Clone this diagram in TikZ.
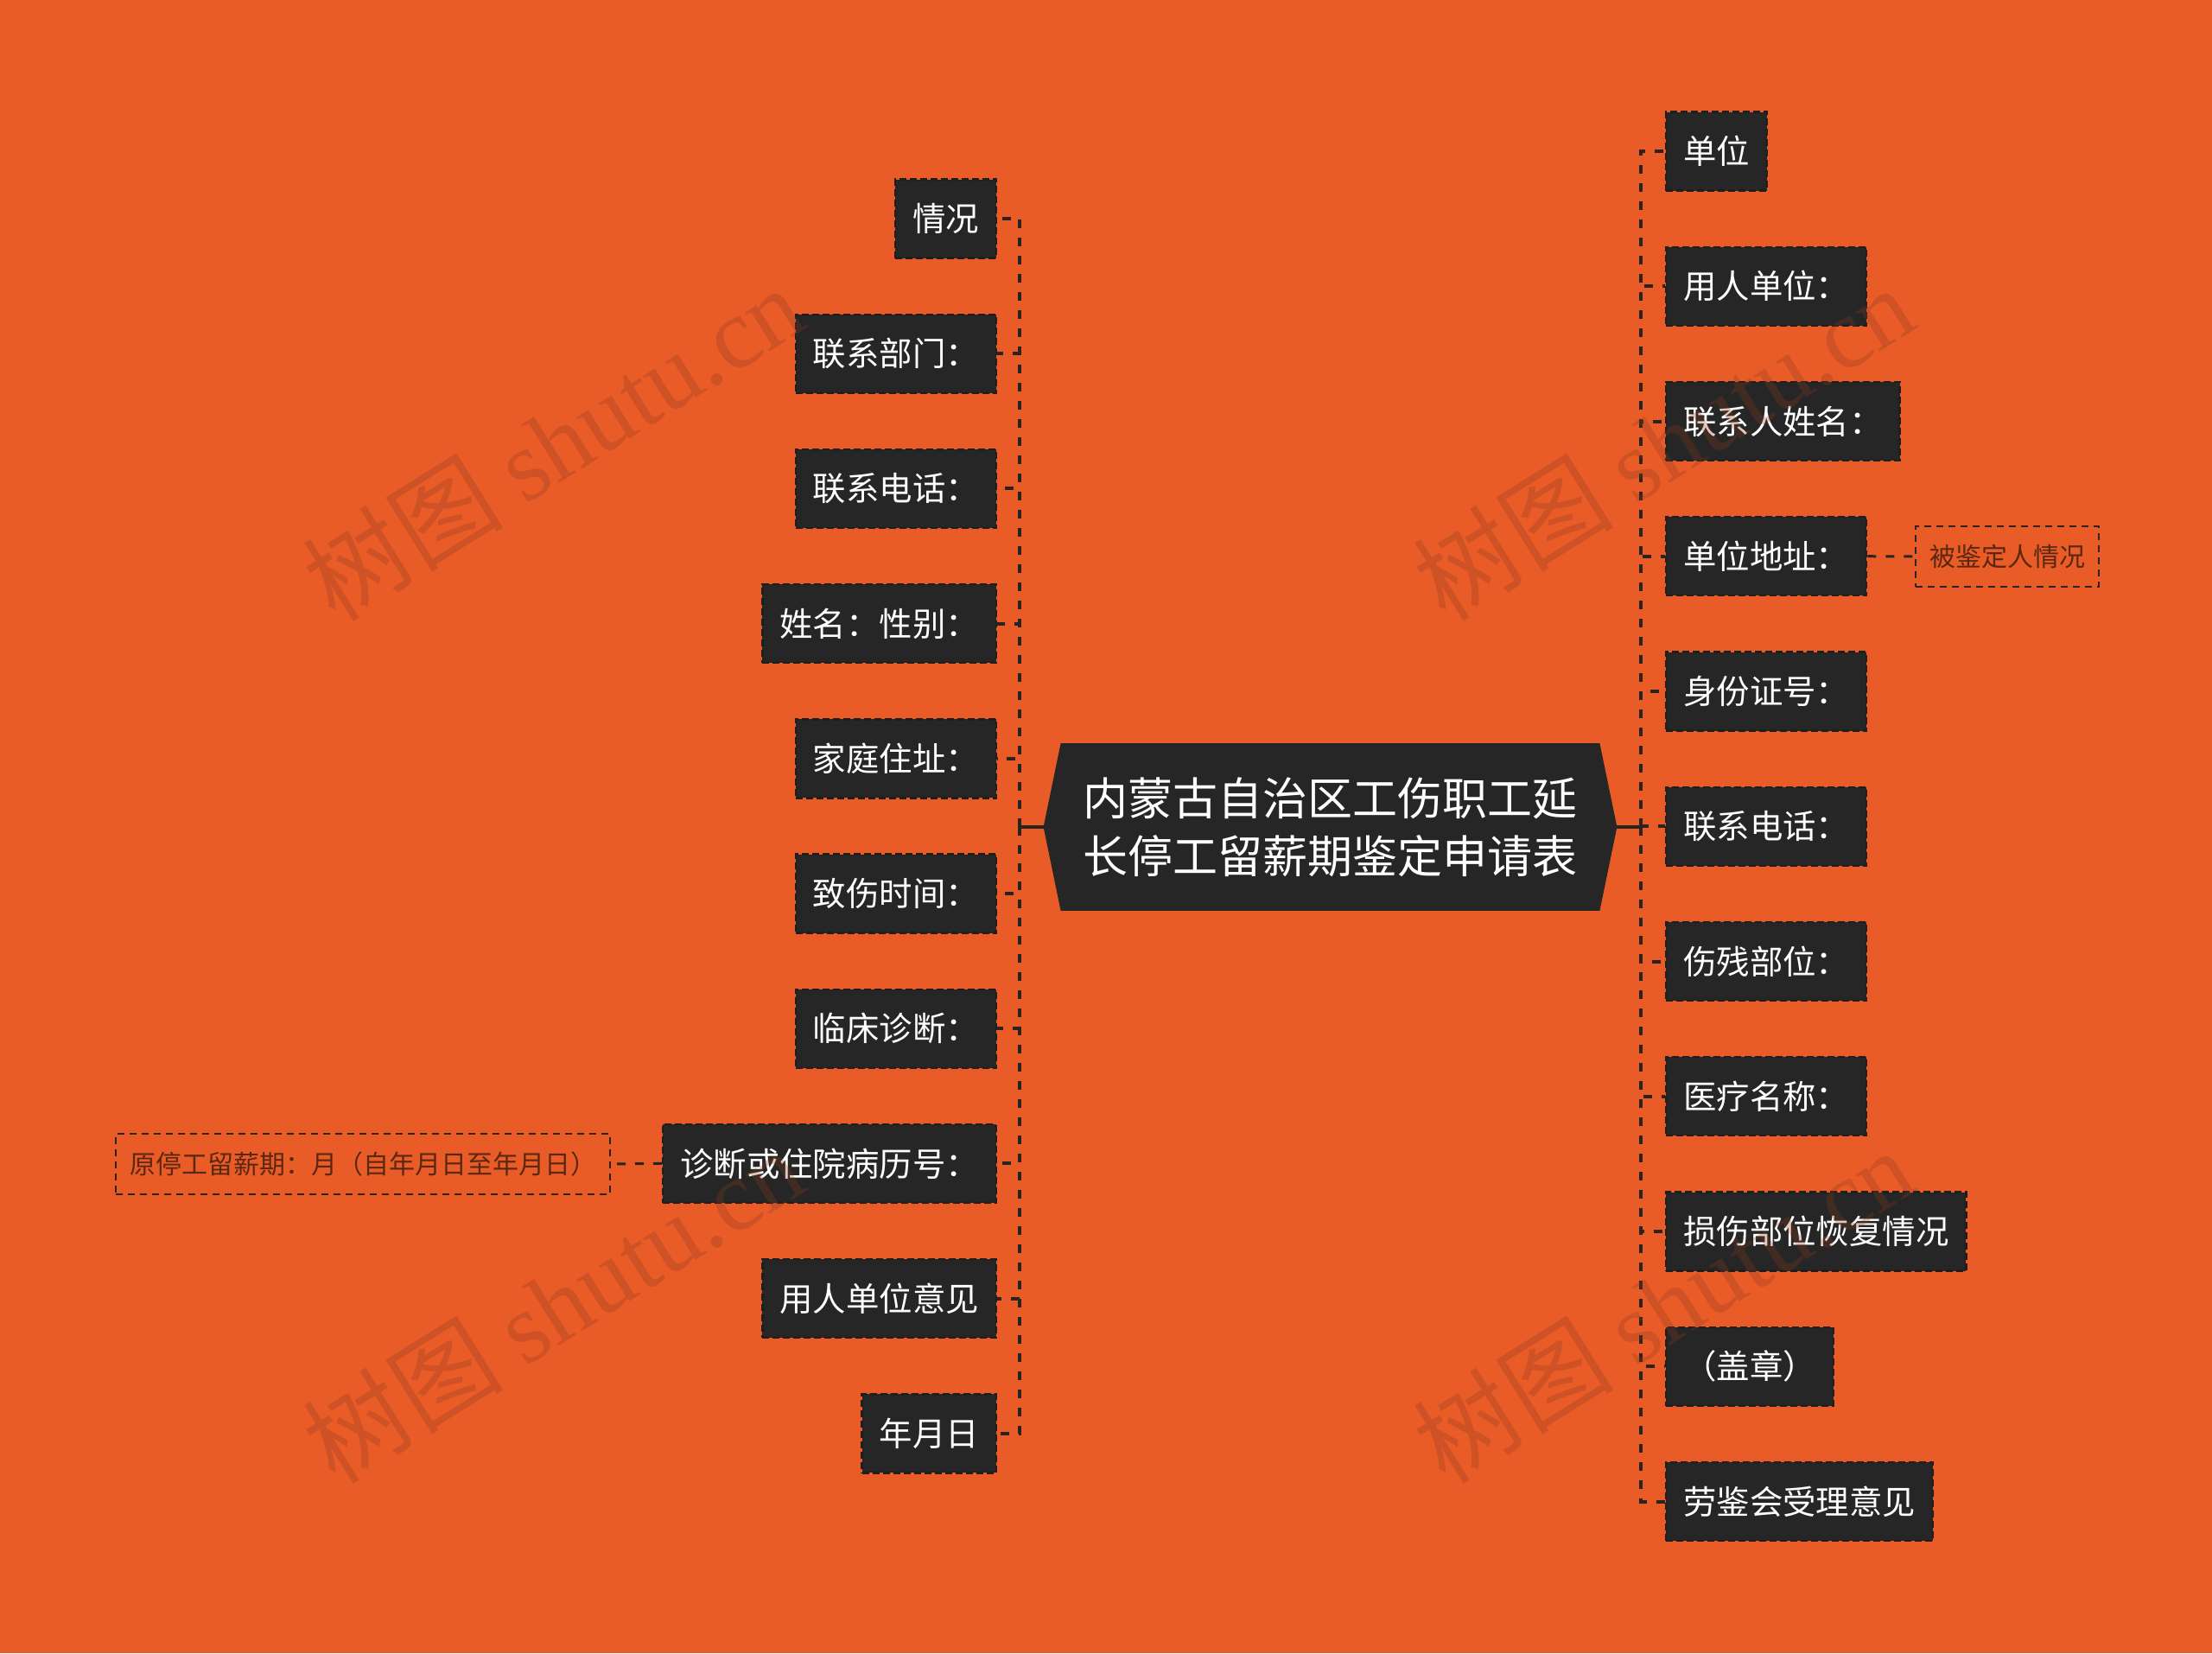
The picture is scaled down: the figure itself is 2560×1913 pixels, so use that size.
\documentclass[tikz,border=0pt]{standalone}
\usepackage{fontspec}
\usetikzlibrary{calc}
\newfontfamily\cjk{Noto Sans CJK SC}
\newfontfamily\wmserif{Liberation Serif}
\definecolor{bgc}{HTML}{E95C28}
\definecolor{boxc}{HTML}{262626}
\definecolor{edgec}{HTML}{1E1E1E}
\definecolor{connc}{HTML}{2A2420}
\definecolor{leafc}{HTML}{5A2810}
\definecolor{wmc}{HTML}{8B3A1E}
\tikzset{
  box/.style={fill=boxc, draw=edgec, line width=1.2pt, dash pattern=on 4pt off 2pt,
    text=white, font=\cjk\fontsize{19.2pt}{22pt}\selectfont,
    minimum height=45.5pt, inner xsep=10pt, inner ysep=0pt},
  leaf/.style={draw=connc, line width=1pt, dash pattern=on 4pt off 3pt,
    text=leafc, font=\cjk\fontsize{15pt}{18pt}\selectfont,
    minimum height=35pt, inner xsep=8pt, inner ysep=0pt},
  conn/.style={draw=connc, line width=2pt, dash pattern=on 5pt off 5.5pt},
  stub/.style={draw=connc, line width=2pt},
  wm/.style={rotate=32, text=wmc, opacity=0.28, font=\fontsize{58pt}{62pt}\selectfont}
}
\begin{document}
\begin{tikzpicture}[x=0.5pt,y=-0.5pt]
\fill[bgc] (0,0) rectangle (2560,1913);
\useasboundingbox (0,0) rectangle (2560,1913);

% center node
\node[minimum width=331.5pt, minimum height=96.5pt, inner sep=0pt] (c) at (1539.5,957) {};
\fill[boxc] ($(c.north west)+(20,0)$) -- ($(c.north east)+(-20,0)$) -- (c.east)
  -- ($(c.south east)+(-20,0)$) -- ($(c.south west)+(20,0)$) -- (c.west) -- cycle;
\node[text=white, align=center, font=\cjk\fontsize{26pt}{33.5pt}\selectfont] (ct) at (c.center)
  {内蒙古自治区工伤职工延\\长停工留薪期鉴定申请表};

% left children
\node[box, anchor=east] (L1) at (1154,253) {情况};
\node[box, anchor=east] (L2) at (1154,409.2) {联系部门：};
\node[box, anchor=east] (L3) at (1154,565.4) {联系电话：};
\node[box, anchor=east] (L4) at (1154,721.6) {姓名：性别：};
\node[box, anchor=east] (L5) at (1154,877.8) {家庭住址：};
\node[box, anchor=east] (L6) at (1154,1034) {致伤时间：};
\node[box, anchor=east] (L7) at (1154,1190.2) {临床诊断：};
\node[box, anchor=east] (L8) at (1154,1346.4) {诊断或住院病历号：};
\node[box, anchor=east] (L9) at (1154,1502.6) {用人单位意见};
\node[box, anchor=east] (L10) at (1154,1658.8) {年月日};

% right children
\node[box, anchor=west] (R1) at (1927,175) {单位};
\node[box, anchor=west] (R2) at (1927,331.2) {用人单位：};
\node[box, anchor=west] (R3) at (1927,487.5) {联系人姓名：};
\node[box, anchor=west] (R4) at (1927,643.7) {单位地址：};
\node[box, anchor=west] (R5) at (1927,800) {身份证号：};
\node[box, anchor=west] (R6) at (1927,956.2) {联系电话：};
\node[box, anchor=west] (R7) at (1927,1112.5) {伤残部位：};
\node[box, anchor=west] (R8) at (1927,1268.7) {医疗名称：};
\node[box, anchor=west] (R9) at (1927,1425) {损伤部位恢复情况};
\node[box, anchor=west] (R10) at (1927,1581.2) {（盖章）};
\node[box, anchor=west] (R11) at (1927,1737.5) {劳鉴会受理意见};

% leaves
\node[leaf, anchor=west] (RL) at (2216,644) {被鉴定人情况};
\node[leaf, anchor=east] (LL) at (707,1347) {原停工留薪期：月（自年月日至年月日）};

% connectors
\coordinate (ls) at (1180,957);
\coordinate (rs) at (1899,957);
\draw[stub] (c.west) -- (ls);
\draw[stub] (c.east) -- (rs);
\foreach \i in {1,...,10} { \draw[conn] (ls) |- (L\i.east); }
\foreach \i in {1,...,11} { \draw[conn] (rs) |- (R\i.west); }
\draw[conn, line width=1.5pt] (R4.east) -- (RL.west);
\draw[conn, line width=1.5pt] (L8.west) -- (LL.east);

% watermarks
\foreach \p [count=\k] in {(640,512),(1925,512),(640,1510),(1925,1510)} {
  \node[wm] (wm\k) at \p {\cjk 树图\ \wmserif shutu.cn};
}
\end{tikzpicture}
\end{document}
